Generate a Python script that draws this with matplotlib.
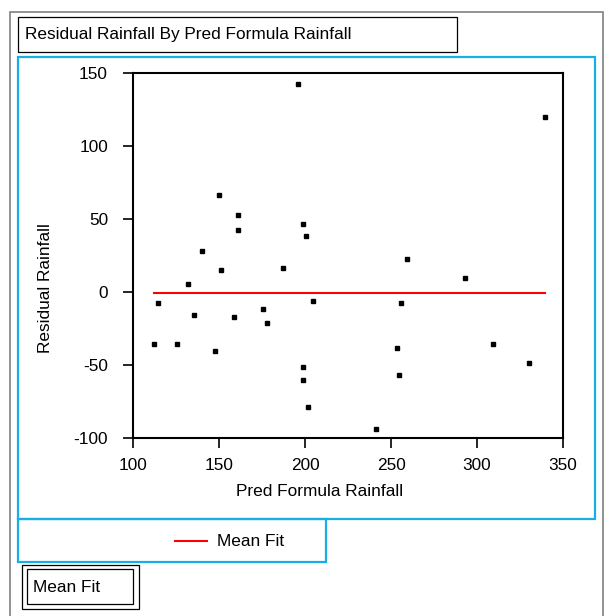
import matplotlib
matplotlib.use("Agg")
import matplotlib.pyplot as plt
from matplotlib.patches import Rectangle
from matplotlib.lines import Line2D

plt.rcParams['font.family'] = ['Liberation Sans', 'DejaVu Sans']
plt.rcParams['axes.unicode_minus'] = False

# --- data ---
pred_rainfall = [195.8, 150.0, 160.9, 198.6, 160.9, 200.8, 140.3, 339.7, 259.3,
                 151.2, 187.4, 131.8, 114.4, 204.5, 135.5, 158.7, 175.6, 177.9,
                 112.0, 125.8, 147.7, 198.6, 198.6, 201.9, 293.2, 255.6, 253.3,
                 309.5, 330.2, 254.7, 241.3]
residual_rainfall = [142.8, 66.3, 52.6, 46.4, 42.3, 38.3, 28.0, 120.2, 22.5,
                     15.0, 16.4, 5.5, -7.5, -6.1, -15.7, -17.1, -11.6, -21.2,
                     -35.5, -35.5, -40.3, -51.2, -60.1, -78.5, 9.6, -7.5, -38.3,
                     -35.5, -48.5, -56.7, -93.6]
mean_fit = -1.0
x_ticks = [100, 150, 200, 250, 300, 350]
y_ticks = [-100, -50, 0, 50, 100, 150]

W, H = 605, 616
FS = 12.4
fig = plt.figure(figsize=(W / 100, H / 100), dpi=100)


def box(x0, y0, x1, y1):
    # pixel box (top-left origin) -> figure fractions
    return [x0 / W, 1 - y1 / H, (x1 - x0) / W, (y1 - y0) / H]


def rect(x0, y0, x1, y1, color, lw):
    l, b, w, h = box(x0, y0, x1, y1)
    fig.patches.append(Rectangle((l, b), w, h, transform=fig.transFigure,
                                 fill=False, edgecolor=color, linewidth=lw))


blue = '#1aaee6'
# outer gray frame
rect(10, 12, 603, 640, '#808080', 1.2)
# title box
rect(18, 17, 457, 52, 'black', 0.9)
fig.text(25 / W, 1 - 35 / H, "Residual Rainfall By Pred Formula Rainfall",
         fontsize=FS, va='center', ha='left')
# plot frame
rect(18, 57, 595, 519, blue, 1.6)
# legend frame
rect(18, 519, 326, 562, blue, 1.6)
fig.lines.append(Line2D([175 / W, 207 / W], [1 - 541 / H, 1 - 541 / H],
                        transform=fig.transFigure, color='red', linewidth=1.5))
fig.text(217 / W, 1 - 541 / H, "Mean Fit", fontsize=FS, va='center', ha='left')
# "Mean Fit" boxes
rect(22, 565, 139, 609, 'black', 0.9)
rect(27, 569, 133, 604, 'black', 0.9)
fig.text(33 / W, 1 - 587 / H, "Mean Fit", fontsize=FS, va='center', ha='left')

ax = fig.add_axes(box(133, 73, 563, 438))
ax.plot(pred_rainfall, residual_rainfall, 's', color='black', markersize=2.8)
ax.plot([min(pred_rainfall), max(pred_rainfall)], [mean_fit, mean_fit],
        color='red', linewidth=1.5)
ax.set_xlim(100, 350)
ax.set_ylim(-100, 150)
ax.set_xticks(x_ticks)
ax.set_yticks(y_ticks)
ax.tick_params(direction='out', length=7.5, width=1.2, labelsize=FS)
ax.tick_params(axis='y', pad=10.5)
ax.tick_params(axis='x', pad=7)
for s in ax.spines.values():
    s.set_linewidth(1.5)
ax.set_xlabel("Pred Formula Rainfall", fontsize=FS, va='center')
ax.set_ylabel("Residual Rainfall", fontsize=FS, va='center')
ax.xaxis.set_label_coords((320 - 133) / 430, (438 - 492) / 365)
ax.yaxis.set_label_coords((45 - 133) / 430, (438 - 288) / 365)

fig.savefig("out.png", dpi=100)
